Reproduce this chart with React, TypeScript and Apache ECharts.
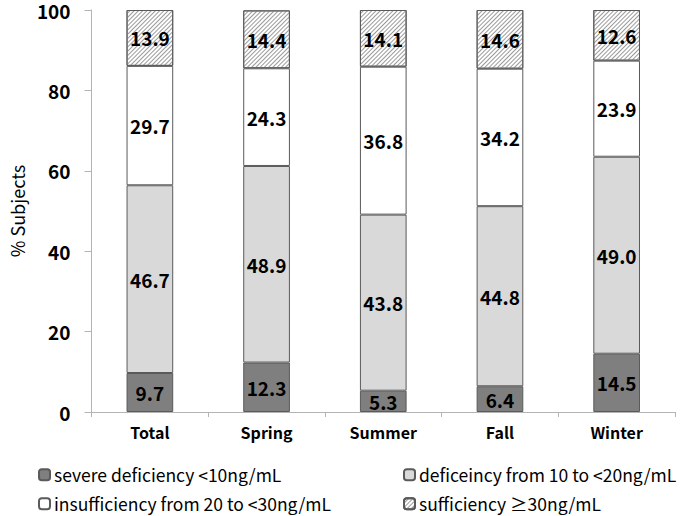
import React, { useEffect, useRef } from "react";
import * as echarts from "echarts";

const categories = ["Total", "Spring", "Summer", "Fall", "Winter"];
const severe = [9.7, 12.3, 5.3, 6.4, 14.5];
const deficiency = [46.7, 48.9, 43.8, 44.8, 49.0];
const insufficiency = [29.7, 24.3, 36.8, 34.2, 23.9];
const sufficiency = [13.9, 14.4, 14.1, 14.6, 12.6];
const seriesNames = [
  "severe deficiency <10ng/mL",
  "deficeincy from 10 to <20ng/mL",
  "insufficiency from 20 to <30ng/mL",
  "sufficiency \u226530ng/mL",
];
const yTicks = [0, 20, 40, 60, 80, 100];

const FONT = "'Noto Sans CJK KR', 'Open Sans', sans-serif";

export default function App() {
  const ref = useRef<HTMLDivElement>(null);
  useEffect(() => {
    if (!ref.current) return;
    document.body.style.margin = "0";
    document.body.style.overflow = "hidden";
    const chart = echarts.init(ref.current, undefined, { renderer: "svg" });
    const border = { borderColor: "#5a5a5a", borderWidth: 1 };
    const label = {
      show: true,
      position: "inside",
      fontSize: 19,
      fontWeight: "bold",
      color: "#000",
      fontFamily: FONT,
      formatter: (p: any) => Number(p.value).toFixed(1),
    };
    const fills = ["#7f7f7f", "#d9d9d9", "#ffffff", "#ffffff"];
    const data = [severe, deficiency, insufficiency, sufficiency];
    const series = data.map((d, i) => ({
      name: seriesNames[i],
      type: "bar",
      stack: "all",
      barWidth: "40%",
      data: d,
      label,
      itemStyle: {
        color: fills[i],
        ...border,
        ...(i === 3
          ? {
              decal: {
                symbol: "rect",
                symbolSize: 1,
                dashArrayX: [1, 0],
                dashArrayY: [1, 2],
                rotation: -Math.PI / 4,
                color: "#9a9a9a",
              },
            }
          : {}),
      },
    }));
    const legendPos = [
      { left: 38, top: 466 },
      { left: 403, top: 466 },
      { left: 38, top: 495 },
      { left: 403, top: 495 },
    ];
    chart.setOption({
      animation: false,
      grid: { left: 85, right: 10, top: 10, bottom: 104 },
      legend: legendPos.map((p, i) => ({
        data: [seriesNames[i]],
        left: p.left,
        top: p.top,
        padding: 0,
        itemWidth: 11,
        itemHeight: 11,
        itemGap: 5,
        selectedMode: false,
        textStyle: { fontSize: 17.5, color: "#000", fontFamily: FONT, padding: [0, 0, 0, -1] },
      })),
      xAxis: {
        type: "category",
        data: categories,
        axisLine: { lineStyle: { color: "#b4b4b4" } },
        axisTick: { show: true, length: 5, lineStyle: { color: "#b4b4b4" } },
        axisLabel: {
          fontSize: 16,
          fontWeight: "bold",
          color: "#000",
          fontFamily: FONT,
          margin: 12,
        },
      },
      yAxis: {
        type: "value",
        min: 0,
        max: 100,
        interval: 20,
        name: "% Subjects",
        nameLocation: "middle",
        nameGap: 61,
        nameTextStyle: { fontSize: 18, color: "#000", fontFamily: FONT },
        axisLine: { show: true, lineStyle: { color: "#b4b4b4" } },
        axisTick: { show: true, length: 7, lineStyle: { color: "#b4b4b4" } },
        splitLine: { show: false },
        axisLabel: {
          fontSize: 19,
          fontWeight: "bold",
          color: "#000",
          fontFamily: FONT,
          margin: 21,
          formatter: (v: number) => (yTicks.includes(v) ? String(v) : ""),
        },
      },
      series,
    });
    return () => chart.dispose();
  }, []);
  return (
    <div
      ref={ref}
      style={{ position: "absolute", left: 0, top: 0, width: 685, height: 516 }}
    />
  );
}
